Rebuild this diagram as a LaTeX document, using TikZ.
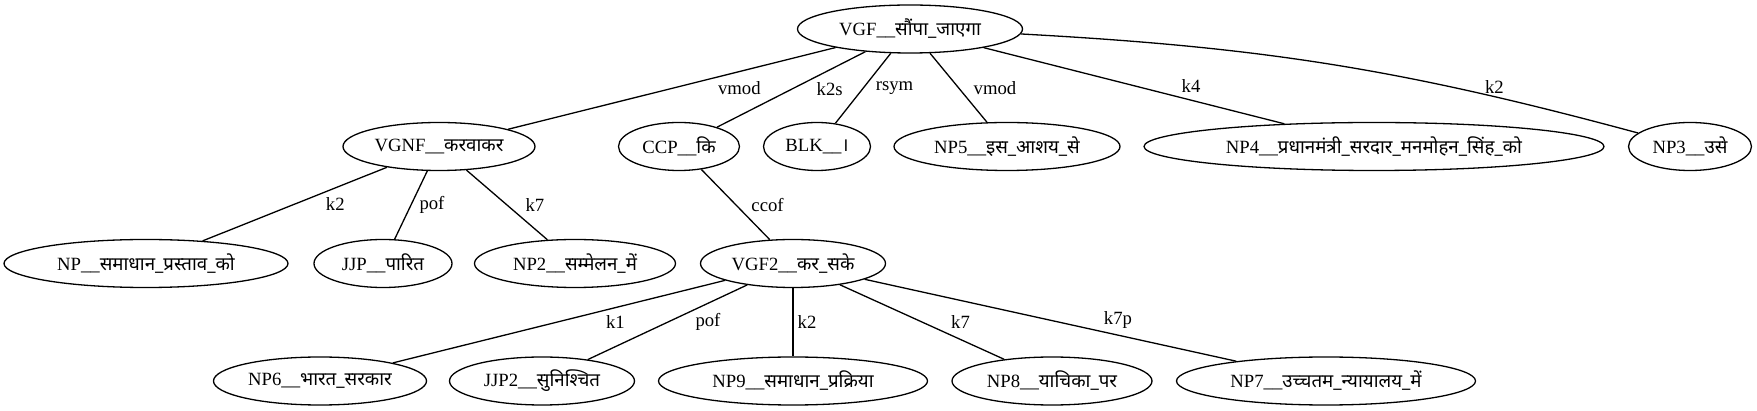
\documentclass[tikz,border=0pt]{standalone}
\usepackage{fontspec}
\setmainfont{Liberation Serif}
\newfontfamily\dev[Script=Devanagari]{Noto Sans}
\usetikzlibrary{shapes.geometric}

\begin{document}
\begin{tikzpicture}[x=1pt, y=-1pt, line width=1.3pt, font=\fontsize{18.7}{22}\selectfont,
  main/.style = {draw, ellipse, inner sep=0pt, minimum height=48pt},
  lbl/.style = {inner sep=0pt}]
\useasboundingbox (0,0) rectangle (1757,411);
\node[main, minimum width=225pt] (1) at (910,29) {VGF\_\_{\dev सौंपा\_जाएगा}};
\node[main, minimum width=192pt] (2) at (439,146.5) {VGNF\_\_{\dev करवाकर}};
\node[main, minimum width=121pt] (3) at (679,146.5) {CCP\_\_{\dev कि}};
\node[main, minimum width=107pt] (4) at (817,146.5) {BLK\_\_{\dev ।}};
\node[main, minimum width=226pt] (5) at (1007,146.5) {NP5\_\_{\dev इस\_आशय\_से}};
\node[main, minimum width=460pt] (6) at (1374,146.5) {NP4\_\_{\dev प्रधानमंत्री\_सरदार\_मनमोहन\_सिंह\_को}};
\node[main, minimum width=123pt] (7) at (1690,146.5) {NP3\_\_{\dev उसे}};
\node[main, minimum width=284pt] (8) at (146,263.5) {NP\_\_{\dev समाधान\_प्रस्ताव\_को}};
\node[main, minimum width=138pt] (9) at (383,263.5) {JJP\_\_{\dev पारित}};
\node[main, minimum width=201pt] (10) at (575,263.5) {NP2\_\_{\dev सम्मेलन\_में}};
\node[main, minimum width=185pt] (11) at (793,263.5) {VGF2\_\_{\dev कर\_सके}};
\node[main, minimum width=213pt] (12) at (320,381) {NP6\_\_{\dev भारत\_सरकार}};
\node[main, minimum width=185pt] (13) at (542,381) {JJP2\_\_{\dev सुनिश्चित}};
\node[main, minimum width=269pt] (14) at (793,381) {NP9\_\_{\dev समाधान\_प्रक्रिया}};
\node[main, minimum width=200pt] (15) at (1052,381) {NP8\_\_{\dev याचिका\_पर}};
\node[main, minimum width=299pt] (16) at (1326,381) {NP7\_\_{\dev उच्चतम\_न्यायालय\_में}};
\path (1) edge node[lbl, xshift=67.5pt] {vmod} (2);
\path (1) edge node[lbl, xshift=38.5pt] {k2s} (3);
\path (1) edge node[lbl, xshift=31.5pt] {rsym} (4);
\path (1) edge node[lbl, xshift=36.5pt] {vmod} (5);
\path (1) edge node[lbl, xshift=57pt] {k4} (6);
\path (1) edge[bend left=6] node[lbl, pos=0.78, above=2pt] {k2} (7);
\path (2) edge node[lbl, xshift=40.5pt] {k2} (8);
\path (2) edge node[lbl, xshift=21pt] {pof} (9);
\path (2) edge node[lbl, xshift=28pt] {k7} (10);
\path (3) edge node[lbl, xshift=32pt] {ccof} (11);
\path (11) edge node[lbl, xshift=56.5pt] {k1} (12);
\path (11) edge node[lbl, xshift=40.5pt] {pof} (13);
\path (11) edge node[lbl, xshift=14pt] {k2} (14);
\path (11) edge node[lbl, xshift=38.5pt] {k7} (15);
\path (11) edge node[lbl, xshift=67.5pt] {k7p} (16);
\end{tikzpicture}
\end{document}
